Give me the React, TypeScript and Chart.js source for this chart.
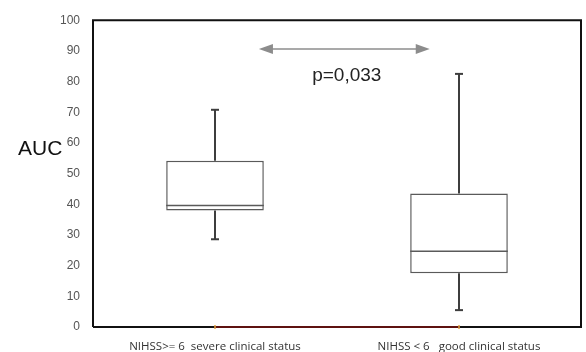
import React, { useEffect, useRef } from "react";
import { Chart, registerables } from "chart.js";

Chart.register(...registerables);

// ---- data ----
const categories = ["NIHSS>= 6  severe clinical status", "NIHSS < 6   good clinical status"];
const whiskerMin = [28.6, 5.5];
const q1 = [38, 17.5];
const median = [39.6, 24.7];
const q3 = [54.2, 43.5];
const whiskerMax = [70.8, 82.5];
const yMin = 0;
const yMax = 100;
const yStep = 10;
const yAxisLabel = "AUC";
const pValueLabel = "p=0,033";
// annotation positions in data units (category index, value)
const arrowFromX = 0.18;
const arrowToX = 0.88;
const arrowY = 90.6;
const pLabelX = 0.54;
const pLabelY = 82;
const axisLabelY = 58;

const boxPlugin = {
  id: "boxExtras",
  afterDatasetsDraw(chart: any) {
    const ctx = chart.ctx;
    const ys = chart.scales.y;
    const xs = chart.scales.x;
    const meta = chart.getDatasetMeta(0);
    ctx.save();
    meta.data.forEach((bar: any, i: number) => {
      const x = bar.x;
      const w = bar.width;
      // median
      ctx.strokeStyle = "#5a5a5a";
      ctx.lineWidth = 1.5;
      ctx.beginPath();
      ctx.moveTo(x - w / 2, ys.getPixelForValue(median[i]));
      ctx.lineTo(x + w / 2, ys.getPixelForValue(median[i]));
      ctx.stroke();
      // whiskers
      ctx.strokeStyle = "#3e3e3e";
      ctx.lineWidth = 2;
      const cap = 4;
      const segs = [
        [q3[i], whiskerMax[i]],
        [q1[i], whiskerMin[i]],
      ];
      segs.forEach(([a, b]) => {
        const ya = ys.getPixelForValue(a);
        const yb = ys.getPixelForValue(b);
        ctx.beginPath();
        ctx.moveTo(x, ya);
        ctx.lineTo(x, yb);
        ctx.stroke();
        ctx.beginPath();
        ctx.moveTo(x - cap, yb);
        ctx.lineTo(x + cap, yb);
        ctx.stroke();
      });
    });

    // frame
    const a = chart.chartArea;
    ctx.lineWidth = 2;
    ctx.strokeStyle = "#111";
    ctx.beginPath();
    ctx.moveTo(a.left, a.bottom);
    ctx.lineTo(a.left, a.top);
    ctx.lineTo(a.right, a.top);
    ctx.lineTo(a.right, a.bottom);
    ctx.lineTo(a.left, a.bottom);
    ctx.stroke();
    // dark red segment between categories on the x axis
    const x0 = xs.getPixelForValue(0);
    const x1 = xs.getPixelForValue(1);
    ctx.strokeStyle = "#5e1210";
    ctx.beginPath();
    ctx.moveTo(x0, a.bottom);
    ctx.lineTo(x1, a.bottom);
    ctx.stroke();
    ctx.strokeStyle = "#e0a040";
    ctx.lineWidth = 1.5;
    [x0, x1].forEach((px) => {
      ctx.beginPath();
      ctx.moveTo(px, a.bottom - 2);
      ctx.lineTo(px, a.bottom + 2);
      ctx.stroke();
    });

    // arrow
    const ax0 = xs.getPixelForValue(arrowFromX);
    const ax1 = xs.getPixelForValue(arrowToX);
    const ay = ys.getPixelForValue(arrowY);
    ctx.strokeStyle = "#8c8c8c";
    ctx.fillStyle = "#8c8c8c";
    ctx.lineWidth = 1.5;
    const hl = 14;
    const hh = 5;
    ctx.beginPath();
    ctx.moveTo(ax0 + hl - 2, ay);
    ctx.lineTo(ax1 - hl + 2, ay);
    ctx.stroke();
    ctx.beginPath();
    ctx.moveTo(ax0, ay);
    ctx.lineTo(ax0 + hl, ay - hh);
    ctx.lineTo(ax0 + hl, ay + hh);
    ctx.closePath();
    ctx.fill();
    ctx.beginPath();
    ctx.moveTo(ax1, ay);
    ctx.lineTo(ax1 - hl, ay - hh);
    ctx.lineTo(ax1 - hl, ay + hh);
    ctx.closePath();
    ctx.fill();

    // p value
    ctx.fillStyle = "#222";
    ctx.font = "19px 'Liberation Sans', Arial, sans-serif";
    ctx.textAlign = "center";
    ctx.textBaseline = "middle";
    ctx.fillText(pValueLabel, xs.getPixelForValue(pLabelX), ys.getPixelForValue(pLabelY));

    // AUC label
    ctx.fillStyle = "#111";
    ctx.font = "21px 'Liberation Sans', Arial, sans-serif";
    ctx.textAlign = "left";
    ctx.textBaseline = "middle";
    ctx.fillText(yAxisLabel, 18, ys.getPixelForValue(axisLabelY));
    ctx.restore();
  },
};

export default function App() {
  const ref = useRef<HTMLCanvasElement>(null);
  useEffect(() => {
    document.body.style.margin = "0";
    const chart = new Chart(ref.current!, {
      type: "bar",
      data: {
        labels: categories,
        datasets: [
          {
            data: q1.map((v, i) => [v, q3[i]]),
            backgroundColor: "#ffffff",
            borderColor: "#5a5a5a",
            borderWidth: 1.5,
            borderSkipped: false,
            categoryPercentage: 1,
            barPercentage: 0.4,
          } as any,
        ],
      },
      options: {
        responsive: false,
        animation: false,
        events: [],
        layout: { padding: { top: 19, right: 5, left: 0, bottom: 0 } },
        plugins: { legend: { display: false }, tooltip: { enabled: false } },
        scales: {
          x: {
            offset: true,
            grid: { display: false, drawTicks: false },
            border: { display: false },
            ticks: {
              padding: 13,
              color: "#333",
              font: { size: 11.5, family: "'Open Sans', 'Liberation Sans', sans-serif" },
              maxRotation: 0,
              autoSkip: false,
            },
            afterFit: (s: any) => {
              s.height = 25;
            },
          },
          y: {
            min: yMin,
            max: yMax,
            grid: { display: false, drawTicks: false },
            border: { display: false },
            ticks: {
              stepSize: yStep,
              padding: 13,
              color: "#555",
              font: { size: 12, family: "'Liberation Sans', Arial, sans-serif" },
            },
            afterFit: (s: any) => {
              s.width = 93;
            },
          },
        },
      },
      plugins: [boxPlugin],
    });
    return () => chart.destroy();
  }, []);
  return (
    <div style={{ position: "absolute", left: 0, top: 0, width: 586, height: 352, background: "#fff" }}>
      <canvas ref={ref} width={586} height={352} />
    </div>
  );
}
